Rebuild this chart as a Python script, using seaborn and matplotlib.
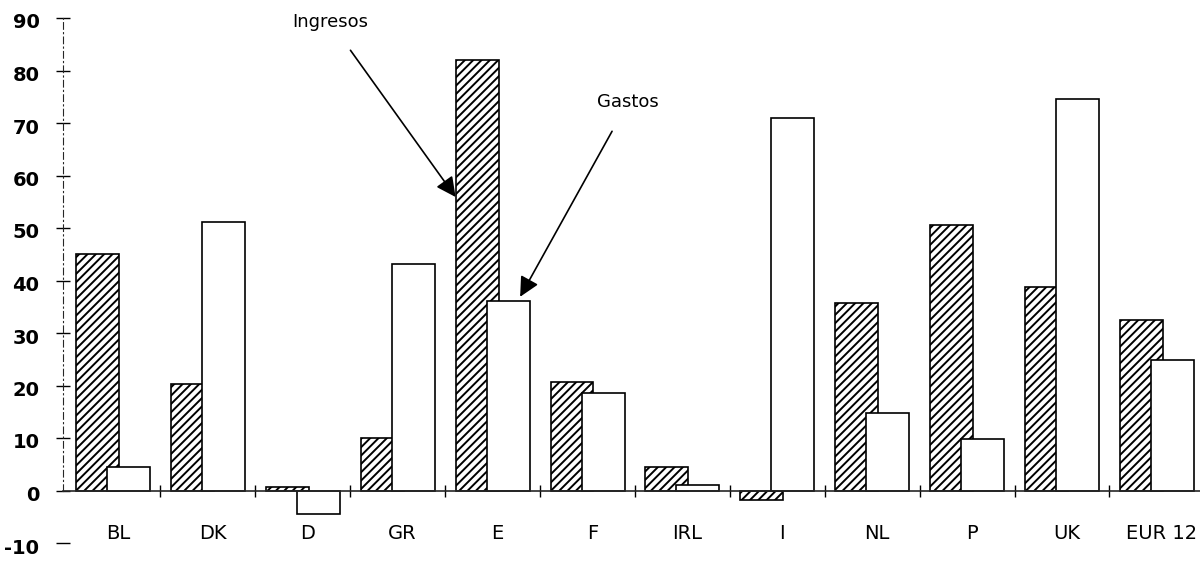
import matplotlib
matplotlib.use("Agg")
import matplotlib.pyplot as plt
import matplotlib.transforms as mtransforms
import seaborn as sns
import pandas as pd

paises = ["BL", "DK", "D", "GR", "E", "F", "IRL", "I", "NL", "P", "UK", "EUR 12"]
ingresos = [45.0, 20.3, 0.6, 10.0, 82.0, 20.7, 4.4, -1.9, 35.7, 50.6, 38.8, 32.5]
gastos = [4.4, 51.1, -4.4, 43.2, 36.1, 18.6, 1.1, 70.9, 14.8, 9.9, 74.5, 24.9]
y_ticks = list(range(-10, 100, 10))

df = pd.DataFrame({
    "pais": paises * 2,
    "valor": ingresos + gastos,
    "serie": ["Ingresos"] * len(paises) + ["Gastos"] * len(paises),
})

sns.set_style("white")
plt.rcParams["font.family"] = ["DejaVu Sans"]
plt.rcParams["text.color"] = "black"
plt.rcParams["xtick.color"] = "black"
plt.rcParams["ytick.color"] = "black"
plt.rcParams["hatch.linewidth"] = 1.4

fig = plt.figure(figsize=(12, 5.61), dpi=100)
ax = fig.add_axes([63 / 1200, 18 / 561, 1137 / 1200, 525 / 561])

sns.barplot(data=df, x="pais", y="valor", hue="serie", order=paises,
            hue_order=["Ingresos", "Gastos"], palette=["white", "white"],
            width=0.78, edgecolor="black", linewidth=1.2, legend=False, ax=ax)

# barras solapadas como en el original (gastos delante)
n = len(paises)
for i, p in enumerate(ax.patches[:2 * n]):
    p.set_width(0.453)
    if i < n:
        p.set_hatch("////")
    else:
        p.set_x(p.get_x() - 0.063)

ax.set_xlim(-0.527, 11.454)
ax.set_ylim(-10, 90)
ax.set_xlabel("")
ax.set_ylabel("")

for s in ["top", "right"]:
    ax.spines[s].set_visible(False)
ax.spines["bottom"].set_position(("data", 0))
ax.spines["bottom"].set_linewidth(1.2)
ax.spines["left"].set_bounds(0, 90)
ax.spines["left"].set_linestyle((0, (6, 3, 1, 3)))
ax.spines["left"].set_linewidth(0.8)

ax.set_yticks(y_ticks)
ax.set_yticklabels([str(v) for v in y_ticks], fontsize=14, fontweight="bold")
ax.tick_params(axis="y", direction="inout", length=10, width=1, pad=12, left=True)
bajar = mtransforms.ScaledTranslation(0, -3 / 100, fig.dpi_scale_trans)
for lab in ax.get_yticklabels():
    lab.set_transform(lab.get_transform() + bajar)

ax.set_xticks([k + 0.05 for k in range(n)])
ax.set_xticklabels(paises, fontsize=14)
ax.tick_params(axis="x", which="major", length=0, pad=24)
ax.set_xticks([k - 0.5 for k in range(1, n)], minor=True)
ax.tick_params(axis="x", which="minor", direction="inout", length=9, width=1, bottom=True)

ax.annotate("Ingresos", xy=(3.61, 55.9), xytext=(2.29, 89.2),
            ha="center", va="center", fontsize=13,
            arrowprops=dict(arrowstyle="-|>", color="black", lw=1.2,
                            mutation_scale=30, shrinkA=14, shrinkB=0))
ax.annotate("Gastos", xy=(4.29, 36.9), xytext=(5.43, 74.0),
            ha="center", va="center", fontsize=13,
            arrowprops=dict(arrowstyle="-|>", color="black", lw=1.2,
                            mutation_scale=30, shrinkA=14, shrinkB=0))

fig.savefig("out.png", dpi=100, facecolor="white")
